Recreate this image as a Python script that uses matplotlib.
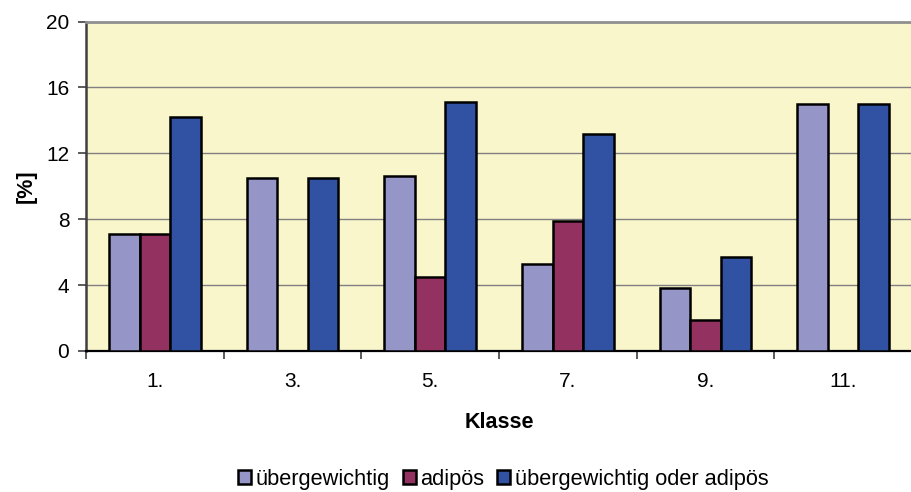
import matplotlib.pyplot as plt
from matplotlib.patches import Patch
import numpy as np

plt.rcParams['font.family'] = ['Liberation Sans', 'DejaVu Sans']

klassen = ['1.', '3.', '5.', '7.', '9.', '11.']
uebergewichtig = [7.1, 10.5, 10.6, 5.3, 3.8, 15.0]
adipoes = [7.1, 0.0, 4.5, 7.9, 1.9, 0.0]
ueber_oder_adipoes = [14.2, 10.5, 15.1, 13.2, 5.7, 15.0]

serien = ['übergewichtig', 'adipös', 'übergewichtig oder adipös']
farben = ['#9595C7', '#933160', '#3151A2']

fig = plt.figure(figsize=(9.12, 4.92), dpi=100)
ax = fig.add_axes([86 / 912, 1 - 351 / 492, 1 - 86 / 912, (351 - 21.5) / 492])
ax.set_facecolor('#FAF6CC')

x = np.arange(len(klassen))
w = 1 / 4.5
for i, (werte, farbe) in enumerate(zip([uebergewichtig, adipoes, ueber_oder_adipoes], farben)):
    for xi, v in zip(x, werte):
        if v > 0:
            ax.bar(xi + (i - 1) * w, v, w, color=farbe, edgecolor='black', linewidth=1.8, zorder=3)

ax.set_ylim(0, 20)
ax.set_xlim(-0.5, 5.43)
ax.set_yticks([0, 4, 8, 12, 16, 20])
ax.yaxis.grid(True, color='#808080', linewidth=1.0, zorder=0)
ax.set_axisbelow(True)

# Striche an den Gruppengrenzen, Beschriftung in der Mitte
ax.set_xticks(np.arange(-0.5, 6, 1))
ax.set_xticklabels([])
ax.set_xticks(x, minor=True)
ax.set_xticklabels(klassen, minor=True)
ax.tick_params(axis='x', which='major', length=6, width=1.2, color='#404040')
ax.tick_params(axis='x', which='minor', length=0, pad=15, labelsize=15)
ax.tick_params(axis='y', length=6, width=1.2, color='#404040', labelsize=15, pad=6)

ax.spines['right'].set_visible(False)
ax.spines['top'].set_color('#909090')
ax.spines['top'].set_linewidth(2)
ax.spines['left'].set_color('#404040')
ax.spines['left'].set_linewidth(1.8)
ax.spines['bottom'].set_color('black')
ax.spines['bottom'].set_linewidth(1.6)

ax.set_xlabel('Klasse', fontsize=15.5, fontweight='bold', labelpad=15)
ax.set_ylabel('[%]', fontsize=15.5, fontweight='bold', labelpad=7)

handles = [Patch(facecolor=f, edgecolor='black', linewidth=1.8) for f in farben]
fig.legend(handles, serien, loc='center', bbox_to_anchor=(503 / 912, 1 - 479 / 492),
           ncol=3, frameon=False, fontsize=15.7, handlelength=0.6, handleheight=0.6,
           handletextpad=0.2, columnspacing=0.6, borderpad=0)

fig.savefig('out.png', dpi=100)
